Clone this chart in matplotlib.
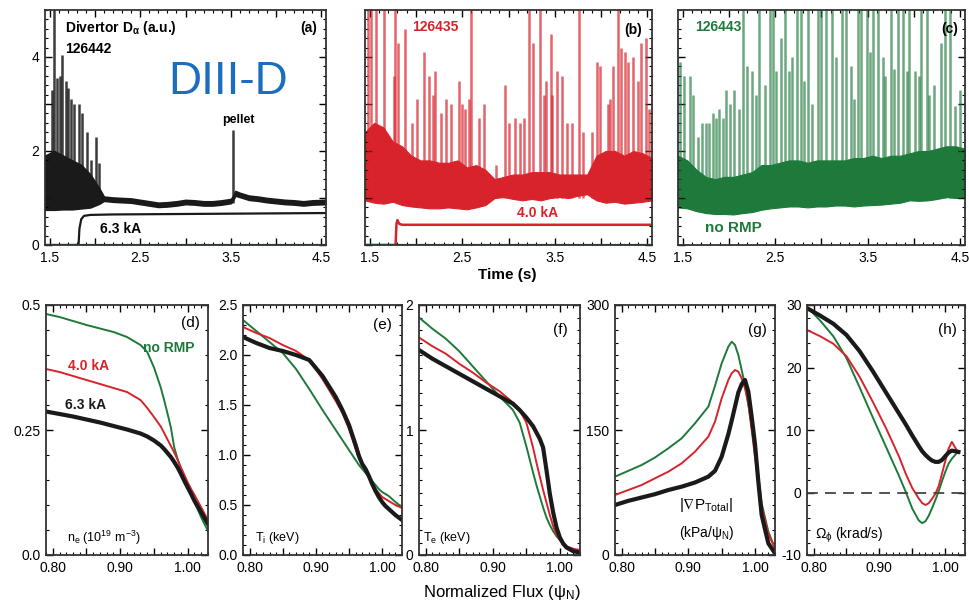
import numpy as np
import matplotlib
matplotlib.use("Agg")
import matplotlib.pyplot as plt
from matplotlib.ticker import MultipleLocator

plt.rcParams['font.family'] = ['Liberation Sans', 'DejaVu Sans']
plt.rcParams['mathtext.fontset'] = 'custom'
plt.rcParams['mathtext.rm'] = 'Liberation Sans'
plt.rcParams['mathtext.it'] = 'Liberation Sans:italic'
plt.rcParams['mathtext.bf'] = 'Liberation Sans:bold'
plt.rcParams['mathtext.default'] = 'regular'

BLACK = '#1a1a1a'
RED = '#d8232c'
GREEN = '#1d7a3a'

# ---- top row: divertor D-alpha time traces ----
# shot 126442 (6.3 kA): lower / upper edge of the noisy trace
a_t = [1.45, 1.55, 1.65, 1.75, 1.85, 1.95, 2.05, 2.10, 2.2, 2.3, 2.4, 2.5, 2.6, 2.7, 2.8, 2.9, 3.0,
       3.1, 3.2, 3.3, 3.4, 3.5, 3.52, 3.55, 3.6, 3.7, 3.8, 3.9, 4.0, 4.1, 4.2, 4.3, 4.4, 4.55]
a_low = [0.75, 0.75, 0.76, 0.76, 0.78, 0.80, 0.88, 0.94, 0.92, 0.91, 0.90, 0.87, 0.84, 0.81, 0.82, 0.84, 0.87,
         0.86, 0.84, 0.84, 0.86, 0.89, 0.94, 1.05, 1.02, 0.96, 0.94, 0.91, 0.89, 0.87, 0.86, 0.84, 0.86, 0.87]
a_high = [1.9, 2.0, 1.9, 1.8, 1.7, 1.5, 1.2, 1.03, 1.01, 1.00, 0.99, 0.96, 0.93, 0.90, 0.91, 0.93, 0.96,
          0.95, 0.93, 0.93, 0.95, 0.98, 1.03, 1.15, 1.11, 1.05, 1.03, 1.00, 0.98, 0.96, 0.95, 0.93, 0.95, 0.96]
a_spike_t = [1.47, 1.50, 1.53, 1.55, 1.58, 1.61, 1.64, 1.68, 1.70, 1.74, 1.77, 1.82, 1.86, 1.91, 1.96,
             2.01, 2.05, 3.52]
a_spike_h = [1.7, 1.7, 3.3, 5.5, 3.55, 3.6, 4.05, 3.5, 3.35, 3.1, 3.0, 3.0, 2.8, 2.4, 1.8, 2.3, 1.75, 2.45]
coil_a_t = [1.45, 1.82, 1.83, 1.85, 1.88, 1.95, 2.2, 4.55]
coil_a = [0.0, 0.0, 0.35, 0.55, 0.62, 0.64, 0.65, 0.68]

# shots 126435 (4.0 kA) and 126443 (no RMP)
env_t = [1.45, 1.55, 1.65, 1.75, 1.85, 1.95, 2.05, 2.15, 2.25, 2.35, 2.45, 2.55, 2.65, 2.75, 2.85, 2.95,
         3.05, 3.15, 3.25, 3.35, 3.45, 3.55, 3.65, 3.75, 3.85, 3.95, 4.05, 4.15, 4.25, 4.35, 4.45, 4.55]
b_low = [0.95, 0.90, 0.88, 0.92, 0.85, 0.82, 0.80, 0.78, 0.78, 0.80, 0.78, 0.76, 0.80, 0.85, 1.00, 1.02,
         0.98, 0.95, 0.98, 0.95, 1.00, 1.02, 1.00, 1.05, 1.08, 0.95, 0.90, 0.92, 0.88, 0.90, 0.92, 0.95]
b_high = [2.4, 2.6, 2.5, 2.2, 2.1, 1.9, 1.8, 1.8, 1.75, 1.75, 1.8, 1.65, 1.7, 1.6, 1.4, 1.45,
          1.5, 1.5, 1.55, 1.55, 1.55, 1.5, 1.5, 1.5, 1.5, 1.9, 2.0, 2.0, 1.9, 2.0, 1.95, 1.85]
c_low = [0.80, 0.78, 0.72, 0.68, 0.66, 0.66, 0.65, 0.68, 0.70, 0.75, 0.78, 0.80, 0.82, 0.82, 0.80, 0.82,
         0.82, 0.84, 0.84, 0.82, 0.84, 0.85, 0.86, 0.88, 0.90, 0.95, 0.94, 0.95, 0.98, 1.02, 1.00, 1.00]
c_high = [1.9, 1.8, 1.6, 1.45, 1.4, 1.45, 1.45, 1.5, 1.55, 1.7, 1.7, 1.75, 1.8, 1.8, 1.75, 1.8,
          1.8, 1.8, 1.8, 1.85, 1.85, 1.9, 1.85, 1.9, 1.9, 1.95, 2.0, 2.0, 2.05, 2.1, 2.1, 2.05]

b_spike_t = [1.48, 1.51, 1.57, 1.66, 1.76, 1.77, 1.81, 1.88, 1.96, 2.01, 2.09, 2.14, 2.18, 2.21, 2.27,
             2.32, 2.38, 2.46, 2.50, 2.53, 2.57, 2.60, 2.68, 2.73, 2.87, 2.96, 3.01, 3.07, 3.12, 3.17,
             3.22, 3.27, 3.34, 3.38, 3.41, 3.46, 3.47, 3.52, 3.58, 3.63, 3.69, 3.76, 3.81, 3.90, 3.96,
             3.99, 4.07, 4.10, 4.13, 4.18, 4.22, 4.26, 4.29, 4.34, 4.40, 4.43, 4.48, 4.52]
b_spike_h = [5.5, 5.5, 5.5, 5.5, 3.6, 5.5, 4.3, 4.6, 2.6, 3.1, 4.1, 3.6, 3.2, 3.7, 2.8,
             3.1, 3.0, 3.5, 3.0, 2.9, 3.1, 5.5, 2.7, 3.0, 1.7, 3.4, 2.6, 2.7, 2.6, 2.7,
             5.5, 4.3, 5.5, 3.2, 3.5, 4.5, 3.2, 3.7, 3.6, 2.6, 2.6, 5.5, 2.4, 2.4, 3.9,
             3.8, 3.0, 3.1, 3.8, 5.5, 4.2, 4.1, 3.9, 4.0, 3.5, 4.3, 4.4, 2.9]
coil_b_t = [1.45, 1.78, 1.79, 1.80, 1.82, 1.85, 4.55]
coil_b = [0.0, 0.0, 0.45, 0.53, 0.45, 0.43, 0.43]

c_spike_t = [1.47, 1.52, 1.58, 1.61, 1.67, 1.71, 1.75, 1.78, 1.83, 1.86, 1.89, 1.94, 1.97, 2.01, 2.06,
             2.11, 2.15, 2.20, 2.25, 2.29, 2.33, 2.39, 2.44, 2.48, 2.51, 2.56, 2.61, 2.65, 2.68, 2.74,
             2.78, 2.81, 2.85, 2.90, 2.96, 3.00, 3.05, 3.11, 3.16, 3.22, 3.26, 3.32, 3.35, 3.39, 3.43,
             3.49, 3.52, 3.56, 3.61, 3.66, 3.69, 3.75, 3.78, 3.83, 3.88, 3.92, 3.95, 4.01, 4.05, 4.08,
             4.14, 4.16, 4.22, 4.29, 4.33, 4.39, 4.44, 4.50]
c_spike_h = [3.9, 3.6, 3.6, 3.2, 2.3, 2.6, 2.6, 2.6, 2.8, 2.7, 2.9, 2.7, 3.3, 3.0, 3.3,
             2.9, 5.5, 3.8, 3.7, 3.2, 5.5, 3.4, 5.5, 5.5, 3.7, 4.4, 5.5, 3.7, 4.0, 5.5,
             5.5, 3.5, 5.5, 3.0, 5.5, 5.5, 5.5, 5.5, 4.0, 5.5, 5.5, 3.8, 3.1, 5.5, 5.5,
             5.5, 4.1, 5.5, 5.5, 4.0, 3.6, 5.5, 3.75, 5.5, 5.5, 3.7, 5.5, 3.7, 3.6, 5.5,
             5.5, 3.2, 3.4, 4.3, 5.5, 5.5, 2.95, 3.3]

# ---- bottom row: profiles vs normalized flux ----
psi = [0.79, 0.81, 0.83, 0.85, 0.87, 0.89, 0.91, 0.93, 0.94, 0.95, 0.96, 0.965, 0.97, 0.975,
       0.98, 0.985, 0.99, 0.995, 1.00, 1.005, 1.01, 1.02, 1.03]

ne_norm = [0.482, 0.476, 0.468, 0.460, 0.453, 0.446, 0.436, 0.420, 0.406, 0.375, 0.335, 0.310, 0.283,
           0.255, 0.215, 0.192, 0.172, 0.155, 0.138, 0.122, 0.106, 0.075, 0.048]
ne_40 = [0.372, 0.366, 0.358, 0.350, 0.342, 0.334, 0.326, 0.310, 0.294, 0.276, 0.257, 0.244, 0.231,
         0.218, 0.205, 0.190, 0.175, 0.160, 0.145, 0.132, 0.120, 0.095, 0.070]
ne_63 = [0.287, 0.282, 0.277, 0.271, 0.265, 0.258, 0.251, 0.243, 0.237, 0.229, 0.219, 0.212, 0.204,
         0.196, 0.186, 0.175, 0.162, 0.148, 0.135, 0.122, 0.108, 0.085, 0.062]

ti_norm = [2.35, 2.24, 2.13, 2.02, 1.86, 1.66, 1.45, 1.25, 1.15, 1.05, 0.95, 0.90, 0.86, 0.82,
           0.78, 0.74, 0.70, 0.66, 0.63, 0.61, 0.59, 0.53, 0.48]
ti_40 = [2.28, 2.22, 2.17, 2.10, 2.04, 1.95, 1.76, 1.54, 1.42, 1.26, 1.06, 0.97, 0.90, 0.84,
         0.77, 0.71, 0.66, 0.62, 0.58, 0.56, 0.54, 0.50, 0.47]
ti_63 = [2.18, 2.12, 2.07, 2.04, 2.00, 1.95, 1.79, 1.58, 1.45, 1.30, 1.10, 0.99, 0.91, 0.86,
         0.79, 0.71, 0.64, 0.58, 0.53, 0.49, 0.46, 0.40, 0.35]

te_norm = [1.90, 1.81, 1.73, 1.63, 1.51, 1.39, 1.27, 1.16, 1.06, 0.87, 0.66, 0.56, 0.47, 0.38,
           0.30, 0.24, 0.19, 0.15, 0.12, 0.09, 0.06, 0.03, 0.02]
te_40 = [1.74, 1.67, 1.61, 1.53, 1.46, 1.38, 1.31, 1.22, 1.16, 1.06, 0.86, 0.74, 0.63, 0.52,
         0.42, 0.32, 0.23, 0.16, 0.12, 0.10, 0.07, 0.05, 0.04]
te_63 = [1.64, 1.57, 1.51, 1.45, 1.39, 1.33, 1.27, 1.21, 1.16, 1.10, 1.03, 0.98, 0.93, 0.86,
         0.68, 0.49, 0.34, 0.22, 0.14, 0.09, 0.06, 0.03, 0.02]

dp_norm = [94, 101, 108, 117, 128, 140, 158, 178, 203, 230, 250, 256, 252, 240,
           222, 204, 180, 155, 128, 95, 62, 28, 8]
dp_40 = [72, 78, 84, 92, 100, 110, 124, 142, 160, 188, 210, 218, 222, 220,
         212, 200, 182, 150, 118, 86, 58, 25, 8]
dp_63 = [60, 65, 69, 73, 78, 82, 87, 94, 101, 118, 145, 161, 178, 195,
         205, 210, 196, 166, 133, 88, 48, 14, 2]

om_norm = [29.7, 27.5, 25.0, 21.5, 16.8, 12.0, 7.3, 2.6, 0.1, -2.6, -4.5, -4.9, -4.6, -3.7,
           -2.5, -1.2, 0.2, 1.8, 3.3, 4.6, 5.4, 6.6, np.nan]
om_40 = [26.0, 25.0, 23.8, 21.8, 18.5, 14.5, 10.3, 5.7, 3.0, 0.7, -1.0, -1.7, -2.0, -1.7,
         -1.0, -0.2, 1.0, 3.0, 5.0, 7.0, 8.1, 6.3, np.nan]
om_63 = [29.5, 28.3, 27.0, 25.2, 22.6, 19.4, 16.0, 12.6, 10.9, 9.1, 7.4, 6.6, 6.0, 5.5,
         5.1, 4.9, 4.9, 5.2, 5.8, 6.4, 6.7, 6.5, np.nan]

W, H = 970, 604
fig = plt.figure(figsize=(W / 100, H / 100), dpi=100)


def box(x0, y0, x1, y1):
    return [x0 / W, 1 - y1 / H, (x1 - x0) / W, (y1 - y0) / H]


def style(ax):
    ax.tick_params(which='both', direction='in', top=True, right=True, labelsize=10, pad=4)
    ax.tick_params(which='major', length=5, width=1.0)
    ax.tick_params(which='minor', length=2.5, width=0.8)
    for s in ax.spines.values():
        s.set_linewidth(1.3)
        s.set_color('#333333')


tkw = dict(fontsize=10, fontweight='bold')

# top panels
ax_a = fig.add_axes(box(45, 10, 326, 245))
ax_b = fig.add_axes(box(365, 10, 652, 245))
ax_c = fig.add_axes(box(678, 10, 965, 245))

ax_a.fill_between(a_t, a_low, a_high, color=BLACK, lw=1.2)
ax_a.vlines(a_spike_t, 0.9, a_spike_h, color=BLACK, lw=1.8, alpha=0.85)
ax_a.plot(coil_a_t, coil_a, color=BLACK, lw=1.6)
ax_a.axhline(0, color=GREEN, lw=1.6)

ax_b.fill_between(env_t, b_low, b_high, color=RED, lw=0.8)
ax_b.vlines(b_spike_t, 1.0, b_spike_h, color=RED, lw=1.8, alpha=0.7)
ax_b.plot(coil_b_t, coil_b, color=RED, lw=1.8)
ax_b.axhline(0, color=GREEN, lw=1.6)

ax_c.fill_between(env_t, c_low, c_high, color=GREEN, lw=0.8)
ax_c.vlines(c_spike_t, 1.0, c_spike_h, color=GREEN, lw=1.8, alpha=0.65)

for i, ax in enumerate([ax_a, ax_b, ax_c]):
    ax.set_xlim(1.45, 4.55)
    ax.set_ylim(0, 5.0)
    ax.set_xticks([1.5, 2.0, 2.5, 3.0, 3.5, 4.0, 4.5])
    ax.set_xticklabels(['1.5', '', '2.5', '', '3.5', '', '4.5'])
    ax.xaxis.set_minor_locator(MultipleLocator(0.1))
    ax.set_yticks([0, 1, 2, 3, 4])
    ax.yaxis.set_minor_locator(MultipleLocator(0.2))
    if i == 0:
        ax.set_yticklabels(['0', '', '2', '', '4'])
    else:
        ax.set_yticklabels([])
    style(ax)

ax_a.text(0.071, 0.923, r'Divertor D$_{\alpha}$ (a.u.)', transform=ax_a.transAxes, va='center', **tkw)
ax_a.text(0.071, 0.834, '126442', transform=ax_a.transAxes, va='center', **tkw)
ax_a.text(0.968, 0.923, '(a)', transform=ax_a.transAxes, va='center', ha='right', **tkw)
ax_a.text(0.687, 0.53, 'pellet', transform=ax_a.transAxes, va='center', ha='center', fontsize=9, fontweight='bold')
ax_a.text(0.196, 0.068, '6.3 kA', transform=ax_a.transAxes, va='center', **tkw)
ax_b.text(0.164, 0.928, '126435', transform=ax_b.transAxes, va='center', color=RED, **tkw)
ax_b.text(0.965, 0.915, '(b)', transform=ax_b.transAxes, va='center', ha='right', **tkw)
ax_b.text(0.53, 0.136, '4.0 kA', transform=ax_b.transAxes, va='center', color=RED, **tkw)
ax_c.text(0.059, 0.928, '126443', transform=ax_c.transAxes, va='center', color=GREEN, **tkw)
ax_c.text(0.976, 0.92, '(c)', transform=ax_c.transAxes, va='center', ha='right', **tkw)
ax_c.text(0.094, 0.072, 'no RMP', transform=ax_c.transAxes, va='center', color=GREEN, fontsize=11, fontweight='bold')

fig.text(168 / W, 1 - 82 / H, 'DIII-D', color='#1a6dbf', fontsize=33, va='center', ha='left')
fig.text(507 / W, 1 - 275 / H, 'Time (s)', fontsize=11, fontweight='bold', ha='center', va='center')

# bottom panels
ax_d = fig.add_axes(box(46, 305, 208, 555))
ax_e = fig.add_axes(box(243, 305, 402, 555))
ax_f = fig.add_axes(box(419, 305, 580, 555))
ax_g = fig.add_axes(box(615, 305, 775, 555))
ax_h = fig.add_axes(box(807, 305, 965, 555))

profiles = [
    (ax_d, ne_norm, ne_40, ne_63, (0, 0.5), [0, 0.25, 0.5], ['0.0', '0.25', '0.5'], 0.05),
    (ax_e, ti_norm, ti_40, ti_63, (0, 2.5), [0, 0.5, 1.0, 1.5, 2.0, 2.5],
     ['0.0', '0.5', '1.0', '1.5', '2.0', '2.5'], 0.1),
    (ax_f, te_norm, te_40, te_63, (0, 2), [0, 1, 2], ['0', '1', '2'], 0.1),
    (ax_g, dp_norm, dp_40, dp_63, (0, 300), [0, 150, 300], ['0', '150', '300'], 15),
    (ax_h, om_norm, om_40, om_63, (-10, 30), [-10, 0, 10, 20, 30], ['-10', '0', '10', '20', '30'], 2),
]
for ax, gn, rd, bk, ylim, yt, ytl, ymin in profiles:
    ax.plot(psi, gn, color=GREEN, lw=1.4)
    ax.plot(psi, rd, color=RED, lw=1.4)
    ax.plot(psi, bk, color=BLACK, lw=3.0, solid_joinstyle='round')
    ax.set_xlim(0.79, 1.03)
    ax.set_ylim(*ylim)
    ax.set_xticks([0.80, 0.85, 0.90, 0.95, 1.00])
    ax.set_xticklabels(['0.80', '', '0.90', '', '1.00'])
    ax.xaxis.set_minor_locator(MultipleLocator(0.01))
    ax.set_yticks(yt)
    ax.set_yticklabels(ytl)
    ax.yaxis.set_minor_locator(MultipleLocator(ymin))
    style(ax)

ax_h.axhline(0, color='#444444', lw=1.3, ls=(0, (6, 4)))

ax_d.text(0.95, 0.928, '(d)', transform=ax_d.transAxes, ha='right', va='center', fontsize=11)
ax_d.text(0.60, 0.828, 'no RMP', transform=ax_d.transAxes, va='center', color=GREEN, **tkw)
ax_d.text(0.136, 0.756, '4.0 kA', transform=ax_d.transAxes, va='center', color=RED, **tkw)
ax_d.text(0.117, 0.60, '6.3 kA', transform=ax_d.transAxes, va='center', color=BLACK, **tkw)
ax_d.text(0.13, 0.068, r'n$_e$ (10$^{19}$ m$^{-3}$)', transform=ax_d.transAxes, va='center', fontsize=9)
ax_e.text(0.937, 0.92, '(e)', transform=ax_e.transAxes, ha='right', va='center', fontsize=11)
ax_e.text(0.075, 0.068, r'T$_i$ (keV)', transform=ax_e.transAxes, va='center', fontsize=9)
ax_f.text(0.925, 0.90, '(f)', transform=ax_f.transAxes, ha='right', va='center', fontsize=11)
ax_f.text(0.025, 0.068, r'T$_e$ (keV)', transform=ax_f.transAxes, va='center', fontsize=9)
ax_g.text(0.95, 0.90, '(g)', transform=ax_g.transAxes, ha='right', va='center', fontsize=11)
ax_g.text(0.40, 0.20, r'|$\nabla$P$_{Total}$|', transform=ax_g.transAxes, va='center', fontsize=11)
ax_g.text(0.40, 0.09, r'(kPa/$\psi_N$)', transform=ax_g.transAxes, va='center', fontsize=10)
ax_h.text(0.95, 0.90, '(h)', transform=ax_h.transAxes, ha='right', va='center', fontsize=11)
ax_h.text(0.05, 0.08, r'$\Omega_{\phi}$ (krad/s)', transform=ax_h.transAxes, va='center', fontsize=10)

fig.text(502 / W, 1 - 592 / H, r'Normalized Flux ($\psi_N$)', fontsize=12, ha='center', va='center')

fig.savefig('out.png', dpi=100)
